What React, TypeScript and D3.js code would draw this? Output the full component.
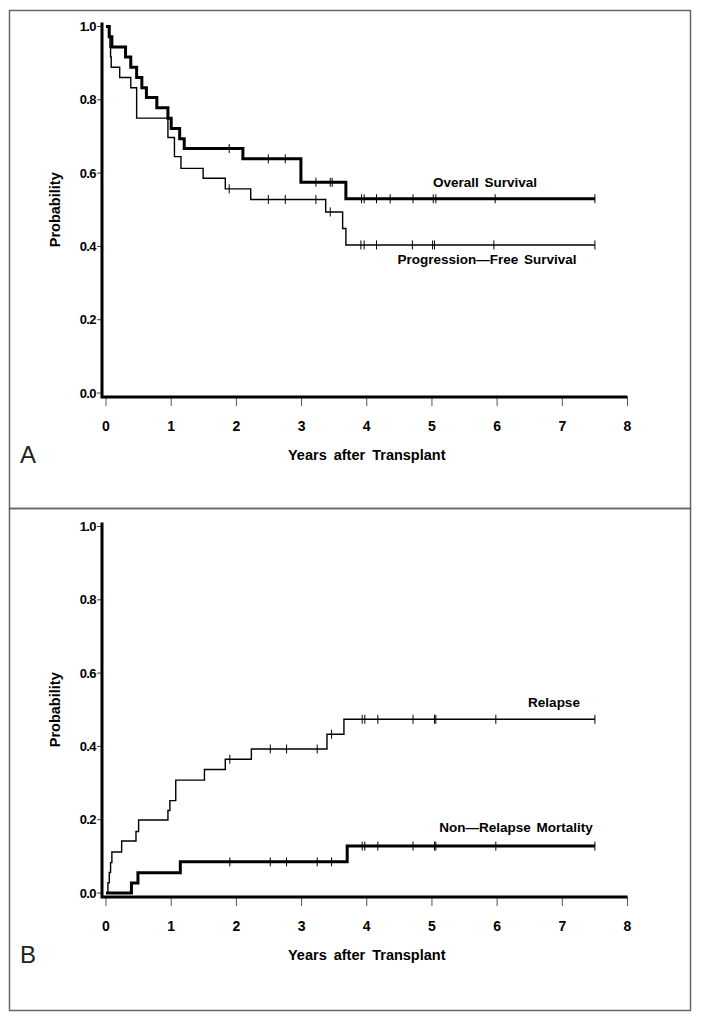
import React from "react";
import * as d3 from "d3";

// ---------- data ----------
const xTicks = [0, 1, 2, 3, 4, 5, 6, 7, 8];
const yTicks = [0, 0.2, 0.4, 0.6, 0.8, 1.0];
const endTime = 7.5;

// Panel A: Overall survival (thick)
const osTime = [0, 0.05, 0.09, 0.30, 0.38, 0.47, 0.55, 0.62, 0.78, 0.95, 1.00, 1.13, 1.20, 2.10, 2.99, 3.68];
const osValue = [1.0, 0.972, 0.944, 0.917, 0.889, 0.861, 0.833, 0.806, 0.778, 0.75, 0.722, 0.694, 0.667, 0.639, 0.575, 0.53];
const osCensor = [1.89, 2.49, 2.75, 3.22, 3.44, 3.47, 3.92, 3.96, 4.15, 4.36, 4.71, 5.02, 5.06, 5.97, 7.5];

// Panel A: Progression-free survival (thin)
const pfsTime = [0, 0.04, 0.06, 0.07, 0.08, 0.21, 0.38, 0.47, 0.95, 1.05, 1.15, 1.49, 1.83, 2.22, 3.37, 3.63, 3.68];
const pfsValue = [1.0, 0.972, 0.944, 0.917, 0.889, 0.861, 0.833, 0.75, 0.697, 0.645, 0.613, 0.586, 0.557, 0.528, 0.494, 0.449, 0.404];
const pfsCensor = [1.89, 2.49, 2.75, 3.22, 3.44, 3.91, 3.96, 4.15, 4.70, 5.01, 5.04, 5.95, 7.5];

// Panel B: Relapse (thin)
const relTime = [0, 0.03, 0.05, 0.07, 0.09, 0.24, 0.46, 0.50, 0.95, 0.98, 1.07, 1.51, 1.83, 2.23, 3.39, 3.65];
const relValue = [0, 0.028, 0.056, 0.083, 0.112, 0.142, 0.168, 0.199, 0.225, 0.252, 0.308, 0.337, 0.365, 0.393, 0.433, 0.474];
const relCensor = [1.90, 2.52, 2.77, 3.24, 3.46, 3.93, 3.97, 4.17, 4.71, 5.04, 5.06, 5.98, 7.5];

// Panel B: Non-relapse mortality (thick)
const nrmTime = [0, 0.39, 0.49, 1.14, 3.70];
const nrmValue = [0, 0.027, 0.055, 0.085, 0.128];
const nrmCensor = [1.90, 2.52, 2.77, 3.24, 3.46, 3.93, 3.97, 4.17, 4.71, 5.04, 5.06, 5.98, 7.5];

const panelLabels = ["A", "B"];
const xTitle = "Years after Transplant";
const yTitle = "Probability";

// ---------- layout ----------
const W = 701;
const H = 1021;
const FONT = "'Liberation Sans', Arial, Helvetica, sans-serif";

const x = d3.scaleLinear().domain([0, 8]).range([106, 627.5]);
const y = d3.scaleLinear().domain([0, 1]).range([393, 26.5]);

type Curve = { time: number[]; value: number[]; censor: number[]; width: number };

function stepPath(c: Curve): string {
  const pts: [number, number][] = c.time.map((t, i) => [t, c.value[i]]);
  pts.push([endTime, c.value[c.value.length - 1]]);
  const line = d3
    .line<[number, number]>()
    .x((d) => x(d[0]))
    .y((d) => y(d[1]))
    .curve(d3.curveStepAfter);
  return line(pts) || "";
}

function valueAt(c: Curve, t: number): number {
  let v = c.value[0];
  for (let i = 0; i < c.time.length; i++) {
    if (c.time[i] <= t) v = c.value[i];
  }
  return v;
}

function CurveMarks({ c }: { c: Curve }) {
  return (
    <g>
      <path d={stepPath(c)} fill="none" stroke="#000" strokeWidth={c.width} strokeLinejoin="miter" />
      {c.censor.map((t, i) => (
        <line
          key={i}
          x1={x(t)}
          x2={x(t)}
          y1={y(valueAt(c, t)) - 4.5}
          y2={y(valueAt(c, t)) + 4.5}
          stroke="#000"
          strokeWidth={1}
        />
      ))}
    </g>
  );
}

function Panel({
  offset,
  label,
  curves,
  texts,
}: {
  offset: number;
  label: string;
  curves: Curve[];
  texts: { t: string; cx: number; cy: number }[];
}) {
  const axisY = 397;
  const axisX = 102;
  return (
    <g transform={`translate(0,${offset})`}>
      {/* y ticks */}
      {yTicks.map((v) => (
        <g key={v}>
          <line x1={97} x2={axisX} y1={y(v)} y2={y(v)} stroke="#444" strokeWidth={1} />
          <text
            x={96}
            y={y(v)}
            dy="0.35em"
            textAnchor="end"
            fontFamily={FONT}
            fontWeight="bold"
            fontSize={13}
            letterSpacing={-0.6}
          >
            {v.toFixed(1)}
          </text>
        </g>
      ))}
      {/* x ticks */}
      {xTicks.map((v) => (
        <g key={v}>
          <line x1={x(v)} x2={x(v)} y1={axisY} y2={axisY + 9} stroke="#555" strokeWidth={1} />
          <text x={x(v)} y={426} dy="0.35em" textAnchor="middle" fontFamily={FONT} fontWeight="bold" fontSize={14}>
            {v}
          </text>
        </g>
      ))}
      {/* axes */}
      <path d={`M${axisX},${y(1) - 4}V${axisY}H${x(8)}`} fill="none" stroke="#000" strokeWidth={3} />
      {/* curves */}
      {curves.map((c, i) => (
        <CurveMarks key={i} c={c} />
      ))}
      {/* curve labels */}
      {texts.map((tx, i) => (
        <text
          key={i}
          x={tx.cx}
          y={tx.cy}
          dy="0.35em"
          textAnchor="middle"
          fontFamily={FONT}
          fontWeight="bold"
          fontSize={13.5}
          wordSpacing={2}
        >
          {tx.t}
        </text>
      ))}
      {/* axis titles */}
      <text
        x={(x(0) + x(8)) / 2}
        y={455}
        dy="0.35em"
        textAnchor="middle"
        fontFamily={FONT}
        fontWeight="bold"
        fontSize={14.5}
        wordSpacing={3}
      >
        {xTitle}
      </text>
      <text
        transform={`translate(55,${(y(0) + y(1)) / 2}) rotate(-90)`}
        dy="0.35em"
        textAnchor="middle"
        fontFamily={FONT}
        fontWeight="bold"
        fontSize={14.5}
      >
        {yTitle}
      </text>
      <text x={20} y={455} dy="0.35em" fontFamily={FONT} fontSize={24} fill="#222">
        {label}
      </text>
    </g>
  );
}

export default function App() {
  const osCurve: Curve = { time: osTime, value: osValue, censor: osCensor, width: 3 };
  const pfsCurve: Curve = { time: pfsTime, value: pfsValue, censor: pfsCensor, width: 1.4 };
  const relCurve: Curve = { time: relTime, value: relValue, censor: relCensor, width: 1.4 };
  const nrmCurve: Curve = { time: nrmTime, value: nrmValue, censor: nrmCensor, width: 3 };
  return (
    <svg width={W} height={H} style={{ display: "block", position: "absolute", left: 0, top: 0, background: "#fff" }}>
      <rect x={0} y={0} width={W} height={H} fill="#fff" />
      <rect x={9.5} y={10.5} width={681} height={498} fill="none" stroke="#666" strokeWidth={1.5} />
      <rect x={9.5} y={508.5} width={681} height={502} fill="none" stroke="#666" strokeWidth={1.5} />
      <Panel
        offset={0}
        label={panelLabels[0]}
        curves={[pfsCurve, osCurve]}
        texts={[
          { t: "Overall Survival", cx: 485, cy: 182 },
          { t: "Progression\u2014Free Survival", cx: 487, cy: 259.5 },
        ]}
      />
      <Panel
        offset={500}
        label={panelLabels[1]}
        curves={[relCurve, nrmCurve]}
        texts={[
          { t: "Relapse", cx: 554, cy: 202 },
          { t: "Non\u2014Relapse Mortality", cx: 516, cy: 327.5 },
        ]}
      />
    </svg>
  );
}
